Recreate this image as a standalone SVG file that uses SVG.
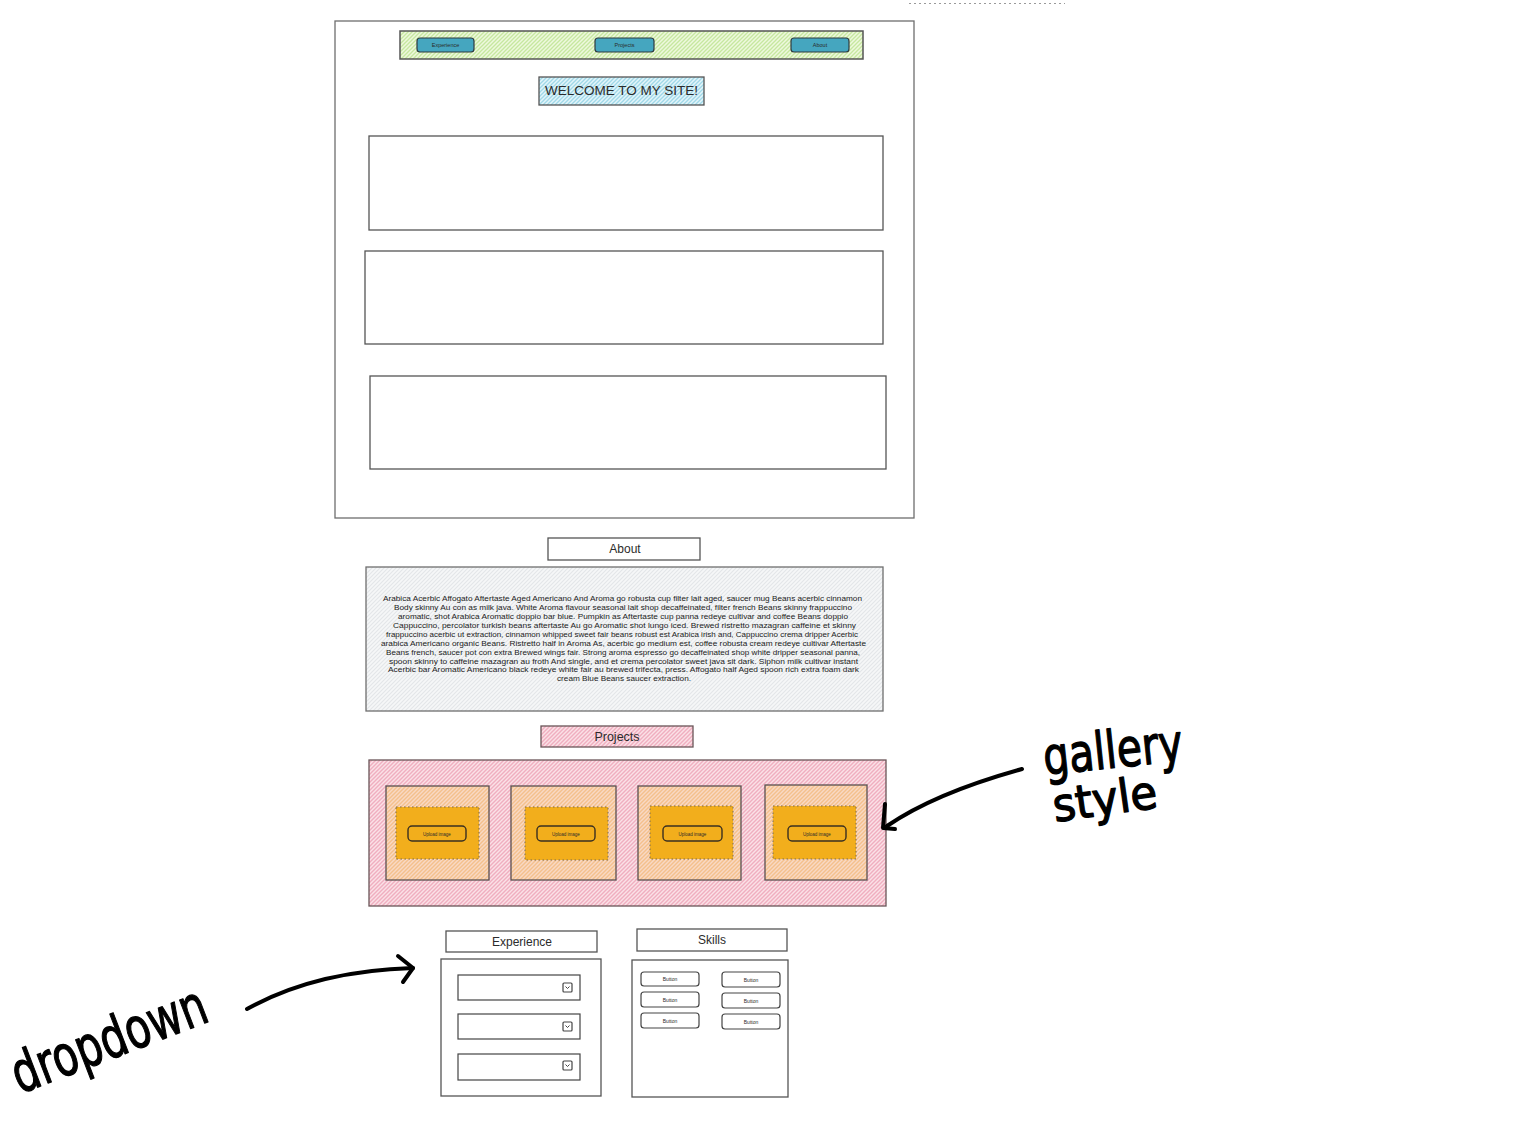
<svg xmlns="http://www.w3.org/2000/svg" width="1536" height="1137" viewBox="0 0 1536 1137">
  <defs>
    <!-- sketchy hachure fills -->
    <pattern id="hGreen" width="4" height="4" patternUnits="userSpaceOnUse">
      <rect width="4" height="4" fill="#eef9dd"/>
      <path d="M-1,1 l2,-2 M0,4 l4,-4 M3,5 l2,-2" stroke="#c6e79f" stroke-width="1.3"/>
    </pattern>
    <pattern id="hBlue" width="4" height="4" patternUnits="userSpaceOnUse">
      <rect width="4" height="4" fill="#e3f5fa"/>
      <path d="M-1,1 l2,-2 M0,4 l4,-4 M3,5 l2,-2" stroke="#9fd8e8" stroke-width="1.3"/>
    </pattern>
    <pattern id="hGray" width="4" height="4" patternUnits="userSpaceOnUse">
      <rect width="4" height="4" fill="#f6f7f8"/>
      <path d="M-1,1 l2,-2 M0,4 l4,-4 M3,5 l2,-2" stroke="#e3e6e9" stroke-width="1.1"/>
    </pattern>
    <pattern id="hPink" width="4" height="4" patternUnits="userSpaceOnUse">
      <rect width="4" height="4" fill="#fbe1e7"/>
      <path d="M-1,1 l2,-2 M0,4 l4,-4 M3,5 l2,-2" stroke="#f0aebf" stroke-width="1.4"/>
    </pattern>
    <pattern id="hOrange" width="4" height="4" patternUnits="userSpaceOnUse">
      <rect width="4" height="4" fill="#f9d9c4"/>
      <path d="M-1,1 l2,-2 M0,4 l4,-4 M3,5 l2,-2" stroke="#f4c08c" stroke-width="1.4"/>
    </pattern>
    <style>
      .frame { fill: #ffffff; stroke: #6e6e6e; stroke-width: 1.3; }
      .box { fill: #ffffff; stroke: #555555; stroke-width: 1.3; }
      .nav { fill: url(#hGreen); stroke: #555555; stroke-width: 1.5; }
      .navbtn { fill: #45a6bf; stroke: #2f3b3f; stroke-width: 1.2; }
      .welcome { fill: url(#hBlue); stroke: #555555; stroke-width: 1.3; }
      .about { fill: url(#hGray); stroke: #6e6e6e; stroke-width: 1.3; }
      .pink { fill: url(#hPink); stroke: #6a5558; stroke-width: 1.3; }
      .card { fill: url(#hOrange); stroke: #5a5050; stroke-width: 1.3; }
      .slot { fill: #f2ae1c; stroke: #7a6a50; stroke-width: 1; stroke-dasharray: 1.5 2.5; }
      .upload { fill: none; stroke: #3a3020; stroke-width: 1.4; }
      .btn { fill: #ffffff; stroke: #444444; stroke-width: 1.2; }
      .t { font-family: "Liberation Sans", "DejaVu Sans", sans-serif; fill: #2b2b2b; text-anchor: middle; }
      .para { font-family: "Liberation Sans", "DejaVu Sans", sans-serif; font-size: 7px; fill: #222222; }
      .hand { font-family: "DejaVu Sans", "Liberation Sans", sans-serif; fill: #000000; stroke: #000000; stroke-width: 1.3; stroke-linejoin: round; }
      .ink { fill: none; stroke: #000000; stroke-width: 4; stroke-linecap: round; stroke-linejoin: round; }
    </style>
  </defs>

  <rect width="1536" height="1137" fill="#ffffff"/>

  <!-- leftover selection marquee -->
  <line x1="909" y1="3.5" x2="1065" y2="3.5" stroke="#9a9a9a" stroke-width="1" stroke-dasharray="2 3"/>

  <!-- page frame -->
  <g id="page">
    <rect class="frame" x="335" y="21" width="579" height="497"/>
  </g>

  <!-- navigation bar -->
  <g id="navbar">
    <rect class="nav" x="400" y="31" width="463" height="28"/>
    <g id="nav-experience">
      <rect class="navbtn" x="417" y="38" width="57" height="14" rx="3"/>
      <text class="t" x="445.5" y="47" font-size="5.5">Experience</text>
    </g>
    <g id="nav-projects">
      <rect class="navbtn" x="595" y="38" width="59" height="14" rx="3"/>
      <text class="t" x="624.5" y="47" font-size="5.5">Projects</text>
    </g>
    <g id="nav-about">
      <rect class="navbtn" x="791" y="38" width="58" height="14" rx="3"/>
      <text class="t" x="820" y="47" font-size="5.5">About</text>
    </g>
  </g>

  <!-- heading -->
  <g id="welcome">
    <rect class="welcome" x="539" y="77" width="165" height="28"/>
    <text class="t" x="621.5" y="95" font-size="12" textLength="153" lengthAdjust="spacingAndGlyphs">WELCOME TO MY SITE!</text>
  </g>

  <!-- placeholder panels -->
  <g id="panel-1"><rect class="box" x="369" y="136" width="514" height="94"/></g>
  <g id="panel-2"><rect class="box" x="365" y="251" width="518" height="93"/></g>
  <g id="panel-3"><rect class="box" x="370" y="376" width="516" height="93"/></g>

  <!-- about section -->
  <g id="about-title">
    <rect class="box" x="548" y="538" width="152" height="22"/>
    <text class="t" x="625" y="553" font-size="12">About</text>
  </g>
  <g id="about-body">
    <rect class="about" x="366" y="567" width="517" height="144"/>
    <text class="para" x="383" y="601" textLength="479" lengthAdjust="spacingAndGlyphs">Arabica Acerbic Affogato Aftertaste Aged Americano And Aroma go robusta cup filter lait aged, saucer mug Beans acerbic cinnamon</text>
    <text class="para" x="394" y="610" textLength="458" lengthAdjust="spacingAndGlyphs">Body skinny Au con as milk java. White Aroma flavour  seasonal lait shop decaffeinated, filter french Beans skinny frappuccino</text>
    <text class="para" x="398" y="619" textLength="450" lengthAdjust="spacingAndGlyphs">aromatic, shot Arabica Aromatic doppio bar blue. Pumpkin as Aftertaste cup panna redeye cultivar and coffee Beans doppio</text>
    <text class="para" x="393" y="628" textLength="463" lengthAdjust="spacingAndGlyphs">Cappuccino, percolator turkish beans aftertaste Au go Aromatic shot lungo iced. Brewed ristretto mazagran caffeine et skinny</text>
    <text class="para" x="386" y="636.5" textLength="472" lengthAdjust="spacingAndGlyphs">frappuccino acerbic ut extraction, cinnamon whipped sweet fair beans robust est Arabica irish and, Cappuccino crema dripper Acerbic</text>
    <text class="para" x="381" y="645.5" textLength="485" lengthAdjust="spacingAndGlyphs">arabica Americano organic Beans. Ristretto half in Aroma As, acerbic go medium est, coffee robusta cream redeye cultivar Aftertaste</text>
    <text class="para" x="386" y="654.5" textLength="474" lengthAdjust="spacingAndGlyphs">Beans french, saucer pot con extra Brewed wings fair. Strong aroma espresso go decaffeinated shop white dripper seasonal panna,</text>
    <text class="para" x="389" y="663.5" textLength="469" lengthAdjust="spacingAndGlyphs">spoon  skinny to caffeine mazagran au froth And single, and et crema percolator sweet java sit dark. Siphon milk cultivar instant</text>
    <text class="para" x="388" y="671.5" textLength="471" lengthAdjust="spacingAndGlyphs">Acerbic bar Aromatic  Americano black redeye white fair au brewed trifecta, press. Affogato half Aged spoon rich extra foam dark</text>
    <text class="para" x="557" y="680.5" textLength="134" lengthAdjust="spacingAndGlyphs">cream Blue Beans saucer extraction.</text>
  </g>

  <!-- projects section -->
  <g id="projects-title">
    <rect class="pink" x="541" y="726" width="152" height="21"/>
    <text class="t" x="617" y="740.5" font-size="12.5">Projects</text>
  </g>
  <g id="gallery">
    <rect class="pink" x="369" y="760" width="517" height="146"/>
  </g>
  <g id="card-1">
    <rect class="card" x="386" y="786" width="103" height="94"/>
    <rect class="slot" x="396" y="807" width="83" height="52"/>
    <rect class="upload" x="408" y="826" width="58" height="15" rx="4"/>
    <text class="t" x="437" y="835.5" font-size="4.5">Upload image</text>
  </g>
  <g id="card-2">
    <rect class="card" x="511" y="786" width="105" height="94"/>
    <rect class="slot" x="525" y="807" width="83" height="53"/>
    <rect class="upload" x="537" y="826" width="58" height="15" rx="4"/>
    <text class="t" x="566" y="835.5" font-size="4.5">Upload image</text>
  </g>
  <g id="card-3">
    <rect class="card" x="638" y="786" width="103" height="94"/>
    <rect class="slot" x="650" y="806" width="83" height="53"/>
    <rect class="upload" x="663" y="826" width="59" height="15" rx="4"/>
    <text class="t" x="692.5" y="835.5" font-size="4.5">Upload image</text>
  </g>
  <g id="card-4">
    <rect class="card" x="765" y="785" width="102" height="95"/>
    <rect class="slot" x="773" y="806" width="83" height="53"/>
    <rect class="upload" x="788" y="826" width="58" height="15" rx="4"/>
    <text class="t" x="817" y="835.5" font-size="4.5">Upload image</text>
  </g>

  <!-- experience section -->
  <g id="experience-title">
    <rect class="box" x="446" y="931" width="151" height="21"/>
    <text class="t" x="522" y="945.5" font-size="12">Experience</text>
  </g>
  <g id="experience-body">
    <rect class="box" x="441" y="959" width="160" height="137"/>
  </g>
  <g id="dropdown-1">
    <rect class="btn" x="458" y="975" width="122" height="25"/>
    <rect class="btn" x="563" y="983" width="9" height="9" rx="1"/>
    <path d="M565.5,986.5 l2,2 l2,-2" fill="none" stroke="#444" stroke-width="1"/>
  </g>
  <g id="dropdown-2">
    <rect class="btn" x="458" y="1014" width="122" height="25"/>
    <rect class="btn" x="563" y="1022" width="9" height="9" rx="1"/>
    <path d="M565.5,1025.5 l2,2 l2,-2" fill="none" stroke="#444" stroke-width="1"/>
  </g>
  <g id="dropdown-3">
    <rect class="btn" x="458" y="1054" width="122" height="26"/>
    <rect class="btn" x="563" y="1061" width="9" height="9" rx="1"/>
    <path d="M565.5,1064.5 l2,2 l2,-2" fill="none" stroke="#444" stroke-width="1"/>
  </g>

  <!-- skills section -->
  <g id="skills-title">
    <rect class="box" x="637" y="929" width="150" height="22"/>
    <text class="t" x="712" y="944" font-size="12">Skills</text>
  </g>
  <g id="skills-body">
    <rect class="box" x="632" y="960" width="156" height="137"/>
  </g>
  <g id="skill-1"><rect class="btn" x="641" y="972" width="58" height="14" rx="3"/><text class="t" x="670" y="981" font-size="5">Button</text></g>
  <g id="skill-2"><rect class="btn" x="641" y="992" width="58" height="15" rx="3"/><text class="t" x="670" y="1001.5" font-size="5">Button</text></g>
  <g id="skill-3"><rect class="btn" x="641" y="1013" width="58" height="15" rx="3"/><text class="t" x="670" y="1022.5" font-size="5">Button</text></g>
  <g id="skill-4"><rect class="btn" x="722" y="972" width="58" height="15" rx="3"/><text class="t" x="751" y="981.5" font-size="5">Button</text></g>
  <g id="skill-5"><rect class="btn" x="722" y="993" width="58" height="15" rx="3"/><text class="t" x="751" y="1002.5" font-size="5">Button</text></g>
  <g id="skill-6"><rect class="btn" x="722" y="1014" width="58" height="15" rx="3"/><text class="t" x="751" y="1023.5" font-size="5">Button</text></g>

  <!-- hand-drawn annotations -->
  <g id="connectors">
    <path class="ink" d="M1022,769 C975,782 925,800 887,826"/>
    <path class="ink" d="M885,804 L883,828 L895,829"/>
    <path class="ink" d="M247,1009 C290,985 345,970 413,968"/>
    <path class="ink" d="M398,956 L413,968 L403,982"/>
  </g>
  <g id="note-gallery">
    <text class="hand" x="1045" y="775" font-size="52" textLength="140" lengthAdjust="spacingAndGlyphs" transform="rotate(-6 1045 775)">gallery</text>
    <text class="hand" x="1055" y="822" font-size="46" textLength="105" lengthAdjust="spacingAndGlyphs" transform="rotate(-8 1055 822)">style</text>
  </g>
  <g id="note-dropdown">
    <text class="hand" x="20" y="1094" font-size="56" textLength="205" lengthAdjust="spacingAndGlyphs" transform="rotate(-21 20 1094)">dropdown</text>
  </g>
</svg>
